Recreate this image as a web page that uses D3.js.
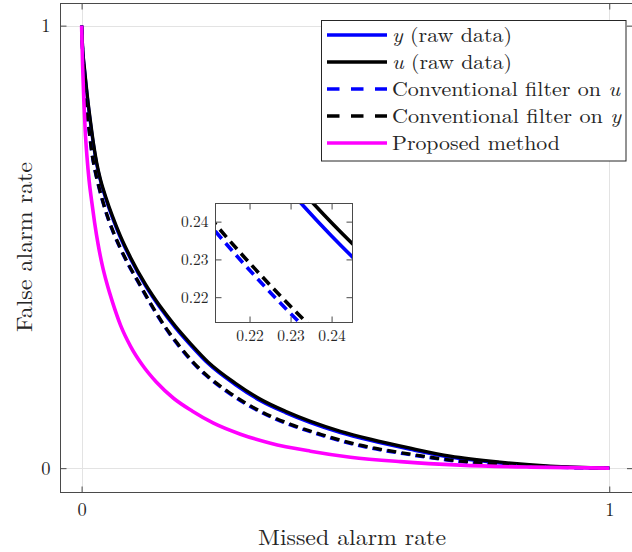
<!DOCTYPE html>
<html>
<head>
<meta charset="utf-8">
<script src="https://cdn.jsdelivr.net/npm/d3@7"></script>
<style>
  html, body { margin: 0; padding: 0; background: #fff; }
  svg { display: block; }
</style>
</head>
<body>
<svg id="chart" width="632" height="552"></svg>
<script>
// Detection trade-off curves: [missed alarm rate, false alarm rate]
const yRaw = [[0,1],[0.0019,0.948],[0.0057,0.897],[0.0114,0.832],[0.0170,0.778],[0.0227,0.729],[0.0284,0.688],[0.0360,0.648],[0.0455,0.610],[0.0587,0.565],[0.0739,0.520],[0.0928,0.4728],[0.1212,0.4118],[0.1496,0.3611],[0.1780,0.3170],[0.2064,0.2782],[0.2400,0.2362],[0.2917,0.1884],[0.3390,0.1523],[0.3864,0.1254],[0.4337,0.1028],[0.4905,0.0803],[0.5473,0.0625],[0.6231,0.0424],[0.6989,0.0248],[0.7936,0.0115],[0.8883,0.0033],[1,0]];
const uRaw = [[0,1],[0.0019,0.9503],[0.0057,0.9007],[0.0114,0.8363],[0.0170,0.7822],[0.0227,0.7325],[0.0284,0.6919],[0.0360,0.6512],[0.0455,0.6140],[0.0587,0.5688],[0.0739,0.5237],[0.0928,0.4763],[0.1212,0.4153],[0.1496,0.3646],[0.1780,0.3205],[0.2064,0.2817],[0.2400,0.2397],[0.2917,0.1919],[0.3390,0.1558],[0.3864,0.1287],[0.4337,0.1061],[0.4905,0.0835],[0.5473,0.0655],[0.6231,0.0451],[0.6989,0.0271],[0.7936,0.0135],[0.8883,0.0045],[1,0]];
const filtU = [[0,1],[0.0019,0.9416],[0.0047,0.8851],[0.0085,0.8231],[0.0133,0.7723],[0.0189,0.7158],[0.0256,0.6707],[0.0322,0.6368],[0.0398,0.6030],[0.0492,0.5668],[0.0606,0.5307],[0.0739,0.4946],[0.0890,0.4585],[0.1061,0.4224],[0.1307,0.3705],[0.1591,0.3163],[0.1875,0.2711],[0.2117,0.2374],[0.2339,0.2114],[0.2765,0.1719],[0.3390,0.1268],[0.3958,0.0975],[0.4527,0.0750],[0.5284,0.0503],[0.6231,0.0302],[0.7178,0.0146],[0.8125,0.0058],[0.9072,0.0016],[1,0]];
const filtY = [[0,1],[0.0019,0.9436],[0.0047,0.8871],[0.0085,0.8251],[0.0133,0.7743],[0.0189,0.7178],[0.0256,0.6727],[0.0322,0.6388],[0.0398,0.6050],[0.0492,0.5688],[0.0606,0.5327],[0.0739,0.4966],[0.0890,0.4605],[0.1061,0.4244],[0.1307,0.3725],[0.1591,0.3183],[0.1875,0.2731],[0.2117,0.2393],[0.2339,0.2133],[0.2765,0.1738],[0.3390,0.1287],[0.3958,0.0993],[0.4527,0.0767],[0.5284,0.0519],[0.6231,0.0316],[0.7178,0.0158],[0.8125,0.0068],[0.9072,0.0023],[1,0]];
const proposed = [[0,1],[0.0019,0.9097],[0.0042,0.8307],[0.0068,0.7630],[0.0100,0.7065],[0.0142,0.6501],[0.0189,0.6050],[0.0246,0.5553],[0.0313,0.5056],[0.0388,0.4605],[0.0473,0.4199],[0.0587,0.3747],[0.0739,0.3228],[0.0928,0.2754],[0.1155,0.2325],[0.1420,0.1941],[0.1742,0.1580],[0.2102,0.1287],[0.2500,0.1016],[0.3011,0.0767],[0.3580,0.0564],[0.4337,0.0384],[0.5095,0.0248],[0.6042,0.0147],[0.7178,0.0068],[0.8504,0.0023],[1,0]];

const seriesNames = ["y (raw data)", "u (raw data)", "Conventional filter on u", "Conventional filter on y", "Proposed method"];
const xTicks = [0, 1];
const yTicks = [0, 1];
const insetXTicks = [0.22, 0.23, 0.24];
const insetYTicks = [0.22, 0.23, 0.24];
const xLimits = [-0.04, 1.045];
const yLimits = [-0.055, 1.05];
const insetXLimits = [0.2117, 0.2451];
const insetYLimits = [0.2133, 0.2448];

const series = [
  { name: seriesNames[0], data: yRaw,     color: "#0000ff", dashed: false },
  { name: seriesNames[1], data: uRaw,     color: "#000000", dashed: false },
  { name: seriesNames[2], data: filtU,    color: "#0000ff", dashed: true },
  { name: seriesNames[3], data: filtY,    color: "#000000", dashed: true },
  { name: seriesNames[4], data: proposed, color: "#ff00ff", dashed: false }
];

// Use the first installed serif face; fall back to the generic family.
function pickFont(candidates) {
  const ctx = document.createElement("canvas").getContext("2d");
  const probe = "Conventional filter on u 0123456789";
  const width = f => { ctx.font = "40px " + f; return ctx.measureText(probe).width; };
  const mono = width("monospace"), sans = width("sans-serif");
  for (const c of candidates) {
    if (width(`"${c}", monospace`) !== mono || width(`"${c}", sans-serif`) !== sans) return `"${c}"`;
  }
  return "serif";
}
const FONT = pickFont(["Latin Modern Roman", "CMU Serif", "Liberation Serif", "DejaVu Serif", "Noto Serif",
  "Tinos", "Times New Roman", "FreeSerif", "Nimbus Roman", "TeX Gyre Termes"]);

const svg = d3.select("#chart").style("font-family", FONT);
const axisColor = "#4a4a4a";
const gridColor = "#e3e3e3";
const textColor = "#262626";

// Main axes frame
const plot = { left: 60.5, right: 633, top: 3.5, bottom: 492.5 };
const x = d3.scaleLinear().domain(xLimits).range([plot.left, plot.right]);
const y = d3.scaleLinear().domain(yLimits).range([plot.bottom, plot.top]);

const defs = svg.append("defs");
defs.append("clipPath").attr("id", "clipMain").append("rect")
  .attr("x", plot.left).attr("y", plot.top)
  .attr("width", plot.right - plot.left).attr("height", plot.bottom - plot.top);

// Grid lines
const grid = svg.append("g");
grid.selectAll("line.gx").data(xTicks).join("line")
  .attr("x1", d => Math.round(x(d)) + 0.5).attr("x2", d => Math.round(x(d)) + 0.5)
  .attr("y1", plot.top).attr("y2", plot.bottom)
  .attr("stroke", gridColor).attr("stroke-width", 1);
grid.selectAll("line.gy").data(yTicks).join("line")
  .attr("y1", d => Math.round(y(d)) + 0.5).attr("y2", d => Math.round(y(d)) + 0.5)
  .attr("x1", plot.left).attr("x2", plot.right)
  .attr("stroke", gridColor).attr("stroke-width", 1);

// Axes with inward ticks on all four sides and a full frame
function drawAxes(g, xs, ys, xt, yt, fmt, fontSize, pad) {
  const r = xs.range(), rr = ys.range();
  const parts = [
    g.append("g").attr("transform", `translate(0,${rr[0]})`)
      .call(d3.axisBottom(xs).tickValues(xt).tickSize(-6).tickPadding(pad).tickFormat(fmt)),
    g.append("g").attr("transform", `translate(0,${rr[1]})`)
      .call(d3.axisTop(xs).tickValues(xt).tickSize(-6).tickFormat("")),
    g.append("g").attr("transform", `translate(${r[0]},0)`)
      .call(d3.axisLeft(ys).tickValues(yt).tickSize(-6).tickPadding(pad).tickFormat(fmt)),
    g.append("g").attr("transform", `translate(${r[1]},0)`)
      .call(d3.axisRight(ys).tickValues(yt).tickSize(-6).tickFormat(""))
  ];
  parts.forEach(a => {
    a.attr("font-family", null).attr("font-size", null);
    a.select("path.domain").remove();
    a.selectAll("line").attr("stroke", axisColor);
    a.selectAll("text").attr("font-size", fontSize).attr("fill", textColor);
  });
  g.append("rect").attr("x", r[0]).attr("y", rr[1])
    .attr("width", r[1] - r[0]).attr("height", rr[0] - rr[1])
    .attr("fill", "none").attr("stroke", axisColor).attr("stroke-width", 1);
}

const line = (xs, ys) => d3.line().x(d => xs(d[0])).y(d => ys(d[1])).curve(d3.curveMonotoneX);

// Curves
const curves = svg.append("g").attr("clip-path", "url(#clipMain)");
series.forEach(s => {
  curves.append("path").datum(s.data)
    .attr("d", line(x, y))
    .attr("fill", "none").attr("stroke", s.color)
    .attr("stroke-width", s.name === seriesNames[4] ? 3.6 : 3.3)
    .attr("stroke-dasharray", s.dashed ? "9,5.5" : null)
    .attr("stroke-linejoin", "round");
});

drawAxes(svg.append("g"), x, y, xTicks, yTicks, d3.format("d"), 18.5, 10);

// Axis titles
svg.append("text").attr("x", 352).attr("y", 545).attr("text-anchor", "middle")
  .attr("font-size", 22).attr("fill", textColor)
  .attr("textLength", 188).attr("lengthAdjust", "spacingAndGlyphs")
  .text("Missed alarm rate");
svg.append("text").attr("transform", "translate(32,247) rotate(-90)").attr("text-anchor", "middle")
  .attr("font-size", 22).attr("fill", textColor)
  .attr("textLength", 170).attr("lengthAdjust", "spacingAndGlyphs")
  .text("False alarm rate");

// Zoomed inset
const ib = { left: 215.5, right: 352.5, top: 203.5, bottom: 322.5 };
const ix = d3.scaleLinear().domain(insetXLimits).range([ib.left, ib.right]);
const iy = d3.scaleLinear().domain(insetYLimits).range([ib.bottom, ib.top]);
defs.append("clipPath").attr("id", "clipInset").append("rect")
  .attr("x", ib.left).attr("y", ib.top)
  .attr("width", ib.right - ib.left).attr("height", ib.bottom - ib.top);
const inset = svg.append("g");
inset.append("rect").attr("x", ib.left).attr("y", ib.top)
  .attr("width", ib.right - ib.left).attr("height", ib.bottom - ib.top).attr("fill", "#fff");
const icurves = inset.append("g").attr("clip-path", "url(#clipInset)");
series.forEach(s => {
  icurves.append("path").datum(s.data)
    .attr("d", line(ix, iy))
    .attr("fill", "none").attr("stroke", s.color)
    .attr("stroke-width", 3.6)
    .attr("stroke-dasharray", s.dashed ? "10,6" : null);
});
drawAxes(inset, ix, iy, insetXTicks, insetYTicks, d3.format(".2f"), 15.5, 7);

// Legend
const lg = svg.append("g");
lg.append("rect").attr("x", 321.5).attr("y", 20.5).attr("width", 304.5).attr("height", 140.5)
  .attr("fill", "#fff").attr("stroke", "#262626").attr("stroke-width", 1);
const rowY = i => 35 + i * 27;
const labelWidths = [120, 120, 228, 229, 168];
series.forEach((s, i) => {
  lg.append("line").attr("x1", 327).attr("x2", 387).attr("y1", rowY(i)).attr("y2", rowY(i))
    .attr("stroke", s.color).attr("stroke-width", 3.4)
    .attr("stroke-dasharray", s.dashed ? "12.5,11.5" : null);
  const t = lg.append("text").attr("x", 392).attr("y", rowY(i) + 7)
    .attr("font-size", 20).attr("fill", textColor)
    .attr("textLength", labelWidths[i]).attr("lengthAdjust", "spacingAndGlyphs");
  // variable names set in italic
  const lead = s.name.match(/^([yu])( .*)$/);
  const tail = s.name.match(/^(.* )([yu])$/);
  if (lead) {
    t.append("tspan").attr("font-style", "italic").text(lead[1]);
    t.append("tspan").text(lead[2]);
  } else if (tail) {
    t.append("tspan").text(tail[1]);
    t.append("tspan").attr("font-style", "italic").text(tail[2]);
  } else {
    t.text(s.name);
  }
});
</script>
</body>
</html>
